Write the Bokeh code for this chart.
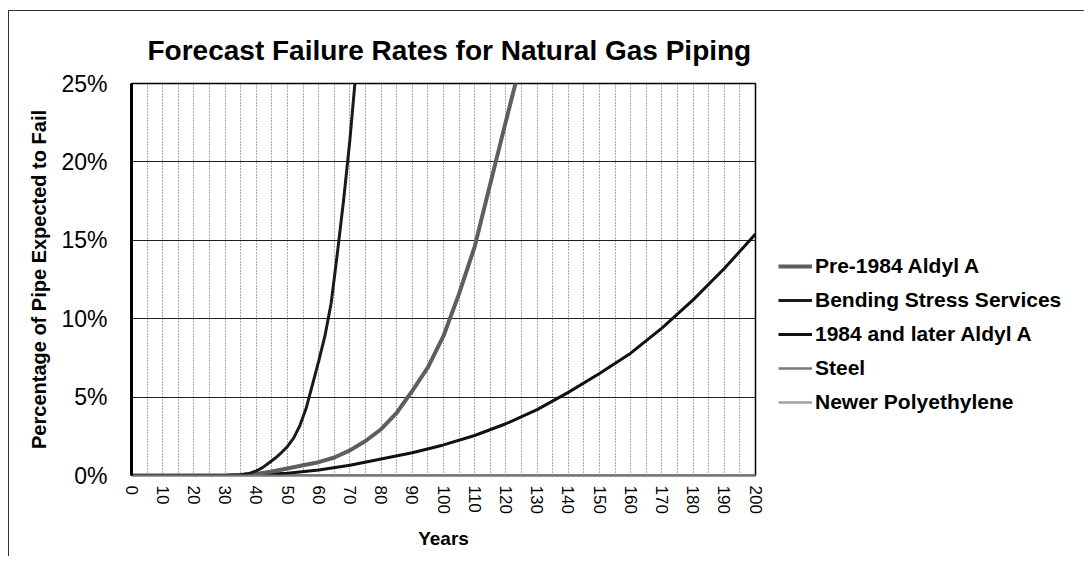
import math
from bokeh.plotting import figure
from bokeh.layouts import row
from bokeh.models import (Range1d, FixedTicker, PrintfTickFormatter, Legend,
                          LegendItem)
from bokeh.embed import file_html
from bokeh.resources import INLINE

# ---------------- data ----------------
title_text = "Forecast Failure Rates for Natural Gas Piping"
x_title = "Years"
y_title = "Percentage of Pipe Expected to Fail"

x_ticks = list(range(0, 201, 10))
y_ticks = [0, 5, 10, 15, 20, 25]

series_names = ["Pre-1984 Aldyl A", "Bending Stress Services",
                "1984 and later Aldyl A", "Steel", "Newer Polyethylene"]

# Pre-1984 Aldyl A (middle curve), percent
pre84_years = [0, 30, 35, 40, 45, 50, 55, 60, 65, 70, 75, 80, 85, 90, 95, 100, 105, 110, 115, 120, 125]
pre84_pct = [0, 0, 0.03, 0.1, 0.25, 0.45, 0.65, 0.85, 1.15, 1.6, 2.2, 2.95, 4.0, 5.4, 6.9, 8.9, 11.6, 14.6, 18.6, 22.6, 26.5]

# Bending Stress Services (steep curve), percent
bend_years = [0, 30, 35, 38, 40, 42, 44, 46, 48, 50, 52, 54, 56, 58, 60, 62, 64, 66, 68, 70, 72]
bend_pct = [0, 0, 0.05, 0.15, 0.3, 0.5, 0.8, 1.1, 1.45, 1.85, 2.4, 3.2, 4.3, 5.8, 7.3, 8.9, 11.0, 14.2, 17.6, 21.4, 25.9]

# 1984 and later Aldyl A (low curve), percent
later84_years = [0, 30, 40, 50, 60, 70, 80, 90, 100, 110, 120, 130, 140, 150, 160, 170, 180, 190, 200]
later84_pct = [0, 0, 0.05, 0.15, 0.35, 0.65, 1.05, 1.45, 1.95, 2.55, 3.3, 4.2, 5.3, 6.5, 7.8, 9.4, 11.2, 13.2, 15.4]

# Steel and Newer Polyethylene stay on the 0% line
steel_years = [0, 200]
steel_pct = [0, 0]
newer_years = [0, 200]
newer_pct = [0, 0]

FONT = "Liberation Sans"

styles = {
    "Pre-1984 Aldyl A": dict(line_color="#5e5e5e", line_width=4),
    "Bending Stress Services": dict(line_color="#1a1a1a", line_width=3),
    "1984 and later Aldyl A": dict(line_color="#111111", line_width=3),
    "Steel": dict(line_color="#7a7a7a", line_width=2.5),
    "Newer Polyethylene": dict(line_color="#a0a0a0", line_width=2.5),
}
series_data = {
    "Pre-1984 Aldyl A": (pre84_years, pre84_pct),
    "Bending Stress Services": (bend_years, bend_pct),
    "1984 and later Aldyl A": (later84_years, later84_pct),
    "Steel": (steel_years, steel_pct),
    "Newer Polyethylene": (newer_years, newer_pct),
}

p = figure(width=760, height=545, output_backend="svg", toolbar_location=None,
           x_range=Range1d(0, 200), y_range=Range1d(0, 25),
           min_border_left=122, min_border_right=14,
           min_border_top=72, min_border_bottom=81)

p.background_fill_color = "white"
p.border_fill_color = "white"
p.outline_line_color = "black"
p.outline_line_width = 1.5

# title
p.title.text = title_text
p.title.align = "left"
p.title.offset = 16
p.title.standoff = 36
p.title.text_font = FONT
p.title.text_font_size = "28px"
p.title.text_font_style = "bold"
p.title.text_color = "black"

# y axis
p.yaxis.ticker = FixedTicker(ticks=y_ticks)
p.yaxis.formatter = PrintfTickFormatter(format="%d%%")
p.yaxis.major_label_text_font = FONT
p.yaxis.major_label_text_font_size = "23px"
p.yaxis.major_label_text_color = "black"
p.yaxis.major_tick_out = 0
p.yaxis.major_tick_in = 0
p.yaxis.minor_tick_out = 0
p.yaxis.minor_tick_in = 0
p.yaxis.major_label_standoff = 24
p.yaxis.axis_line_width = 3
p.yaxis.axis_line_color = "black"
p.yaxis.axis_label = y_title
p.yaxis.axis_label_text_font = FONT
p.yaxis.axis_label_text_font_size = "20px"
p.yaxis.axis_label_text_font_style = "bold"
p.yaxis.axis_label_text_color = "black"
p.yaxis.axis_label_standoff = 8

# x axis
p.xaxis.ticker = FixedTicker(ticks=x_ticks)
p.xaxis.major_label_orientation = -math.pi / 2
p.xaxis.major_label_text_font = FONT
p.xaxis.major_label_text_font_size = "17px"
p.xaxis.major_label_text_color = "black"
p.xaxis.major_tick_out = 0
p.xaxis.major_tick_in = 0
p.xaxis.minor_tick_out = 0
p.xaxis.minor_tick_in = 0
p.xaxis.major_label_standoff = 10
p.xaxis.axis_line_width = 2
p.xaxis.axis_line_color = "#777777"
p.xaxis.axis_label = x_title
p.xaxis.axis_label_text_font = FONT
p.xaxis.axis_label_text_font_size = "19px"
p.xaxis.axis_label_text_font_style = "bold"
p.xaxis.axis_label_text_color = "black"
p.xaxis.axis_label_standoff = 11

# grids
p.ygrid.ticker = FixedTicker(ticks=y_ticks)
p.ygrid.grid_line_color = "#222222"
p.ygrid.grid_line_width = 1
p.xgrid.ticker = FixedTicker(ticks=list(range(0, 201, 5)))
p.xgrid.grid_line_color = "#555555"
p.xgrid.grid_line_dash = "1 2"
p.xgrid.grid_line_width = 1

# series (drawn bottom-most first)
for name in ["Newer Polyethylene", "Steel", "1984 and later Aldyl A",
             "Pre-1984 Aldyl A", "Bending Stress Services"]:
    xs, ys = series_data[name]
    p.line(xs, ys, **styles[name])

# legend panel to the right of the plot (its own view shows no data)
q = figure(width=315, height=545, output_backend="svg", toolbar_location=None,
           x_axis_location=None, y_axis_location=None,
           x_range=Range1d(0, 1), y_range=Range1d(-2, -1),
           min_border=0)
q.outline_line_color = None
q.grid.visible = False
q.background_fill_color = "white"
q.border_fill_color = "white"

items = []
for name in series_names:
    xs, ys = series_data[name]
    r = q.line(xs, ys, **styles[name])
    items.append(LegendItem(label=name, renderers=[r]))

legend = Legend(items=items, location=(9, 56))
legend.padding = 0
legend.margin = 0
legend.spacing = 0
legend.glyph_width = 34
legend.glyph_height = 34
legend.label_height = 34
legend.label_standoff = 3
legend.label_text_font = FONT
legend.label_text_font_size = "21px"
legend.label_text_font_style = "bold"
legend.label_text_color = "black"
legend.border_line_alpha = 0
legend.background_fill_alpha = 0
q.add_layout(legend, "center")

layout = row(p, q, spacing=0)
layout.styles = {"border-left": "1px solid #333", "border-top": "1px solid #333",
                 "margin-left": "8px", "margin-top": "10px"}

open("out.html", "w").write(file_html(layout, INLINE))
